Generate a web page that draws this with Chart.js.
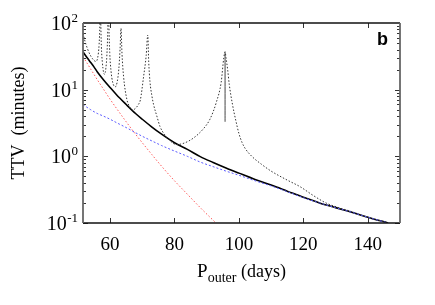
<!DOCTYPE html>
<html><head><meta charset="utf-8">
<script src="https://cdn.jsdelivr.net/npm/chart.js@4"></script>
<style>html,body{margin:0;padding:0;background:#fff}</style>
</head><body>
<canvas id="c" width="435" height="305"></canvas>
<script>
// ---- data ----
const xTicks = [60, 80, 100, 120, 140];
const yTickValues = [0.1, 1, 10, 100];
const yTickBase = '10';
const yTickExponents = ['-1', '0', '1', '2'];
const panelLabel = 'b';
const yTitle = 'TTV  (minutes)';
const xTitleMain = 'P';
const xTitleSub = 'outer';
const xTitleUnit = ' (days)';

// full numerical TTV (dotted black, resonance spikes)
const dotP   = [51.6, 52.0, 53.0, 54.0, 55.0, 55.6, 56.2, 56.6, 56.85, 57.0, 57.1, 57.3, 57.6, 58.0, 58.3, 58.7, 59.0, 59.3, 59.5, 59.65, 59.9, 60.3, 60.8, 61.6, 62.2, 62.7, 63.1, 63.4, 63.7, 64.2, 65.2, 66.0, 66.8, 67.8, 68.8, 69.4, 70.4, 71.2, 71.7, 72.0, 72.4, 73.0, 73.5, 74.6, 75.5, 77.0, 79.0, 80.5, 83.0, 86.0, 89.0, 91.0, 93.0, 94.5, 95.3, 95.7, 96.0, 96.5, 97.0, 98.0, 99.0, 100.0, 101.0, 102.0, 104.0, 107.0, 110.0, 115.0, 119.0, 123.0, 127.0, 131.0, 135.0, 140.0, 146.3];
const dotTTV = [70, 58, 41, 32, 27.5, 26.5, 31, 48, 100, 300, 120, 45, 26, 18, 17, 21, 32, 80, 300, 90, 36, 19, 13, 11, 13, 20, 40, 83, 35, 15.6, 7.2, 5.6, 4.9, 5.2, 6.0, 7.0, 15.6, 32, 66, 26, 13, 8, 6, 3.9, 2.8, 2.1, 1.65, 1.5, 1.58, 1.9, 2.6, 3.6, 6.5, 13, 30, 37, 30, 20, 12, 6, 3.5, 2.2, 1.6, 1.3, 1.0, 0.76, 0.6, 0.44, 0.35, 0.26, 0.2, 0.17, 0.148, 0.123, 0.1];
// vertical segment at the 95.7-day resonance
const spikeP   = [95.7, 95.7];
const spikeTTV = [37, 3.3];

// total analytic TTV (solid black)
const solidP   = [51.6, 52, 53, 54, 55, 56, 58, 60, 62, 65, 68, 70, 73, 76, 80, 84, 88, 92, 96, 100, 105, 110, 115, 120, 125, 130, 135, 140, 146.3];
const solidTTV = [37, 34.5, 29.5, 25.5, 22, 18.6, 14, 10.8, 8.4, 6.0, 4.35, 3.6, 2.75, 2.15, 1.6, 1.27, 0.99, 0.81, 0.67, 0.56, 0.45, 0.37, 0.3, 0.243, 0.2, 0.17, 0.145, 0.122, 0.1];

// component (blue dotted)
const blueP   = [51.6, 52, 54, 56, 58, 60, 62, 65, 68, 70, 73, 76, 80, 84, 88, 92, 96, 100, 105, 110, 115, 120, 125, 130, 135, 140, 146.3];
const blueTTV = [6.0, 5.8, 5.0, 4.4, 4.0, 3.6, 3.2, 2.7, 2.25, 2.0, 1.7, 1.45, 1.2, 1.0, 0.82, 0.7, 0.6, 0.52, 0.43, 0.36, 0.295, 0.24, 0.2, 0.17, 0.145, 0.122, 0.1];

// component (red dotted)
const redP   = [51.6, 52, 53, 54, 55, 56, 58, 60, 62, 65, 68, 70, 73, 76, 80, 84, 88, 92, 94];
const redTTV = [31, 29, 24.4, 20.3, 17, 14.2, 10.1, 7.2, 5.24, 3.3, 2.12, 1.6, 1.06, 0.71, 0.43, 0.27, 0.17, 0.11, 0.089];

const pts = (xs, ys) => xs.map((x, i) => ({x: x, y: ys[i]}));

const SERIF = '"Liberation Serif", "DejaVu Serif", serif';

const decor = {
  id: 'decor',
  afterDatasetsDraw(chart) {
    const {ctx, chartArea: a, scales: {x, y}} = chart;
    ctx.save();
    const seg = (x1, y1, x2, y2) => { ctx.beginPath(); ctx.moveTo(x1, y1); ctx.lineTo(x2, y2); ctx.stroke(); };
    // x ticks (inward, top and bottom)
    ctx.strokeStyle = '#333'; ctx.lineWidth = 1;
    xTicks.forEach(v => {
      const px = Math.round(x.getPixelForValue(v)) + 0.5;
      seg(px, a.bottom, px, a.bottom - 5);
      seg(px, a.top, px, a.top + 5);
    });
    // y ticks major + minor (inward, left and right)
    for (let k = -1; k <= 1; k++) {
      for (let m = 1; m <= 9; m++) {
        const v = m * Math.pow(10, k);
        const py = Math.round(y.getPixelForValue(v)) + 0.5;
        const len = m === 1 ? 5 : 3;
        seg(a.left, py, a.left + len, py);
        seg(a.right, py, a.right - len, py);
      }
    }
    // frame
    ctx.strokeStyle = '#111'; ctx.lineWidth = 1.3;
    seg(a.left, a.top, a.right, a.top);
    seg(a.left, a.bottom, a.right, a.bottom);
    ctx.strokeStyle = '#666'; ctx.lineWidth = 1.8;
    seg(a.left, a.top, a.left, a.bottom);
    seg(a.right, a.top, a.right, a.bottom);

    ctx.fillStyle = '#000';
    // x tick labels
    ctx.font = '19px ' + SERIF;
    ctx.textAlign = 'center'; ctx.textBaseline = 'alphabetic';
    xTicks.forEach(v => ctx.fillText(String(v), x.getPixelForValue(v), a.bottom + 27));
    // y tick labels 10^n
    yTickValues.forEach((v, i) => {
      const py = y.getPixelForValue(v);
      ctx.font = '13px ' + SERIF;
      const supW = ctx.measureText(yTickExponents[i]).width;
      ctx.textAlign = 'left';
      const right = a.left - 5;
      ctx.fillText(yTickExponents[i], right - supW, py - 1);
      ctx.font = '20px ' + SERIF;
      ctx.textAlign = 'right';
      ctx.fillText(yTickBase, right - supW - 0.5, py + 7);
    });
    // y title
    ctx.save();
    ctx.translate(24, (a.top + a.bottom) / 2);
    ctx.rotate(-Math.PI / 2);
    ctx.font = '18px ' + SERIF;
    ctx.textAlign = 'center';
    ctx.fillText(yTitle, 0, 0);
    ctx.restore();
    // x title with subscript
    ctx.textAlign = 'left';
    ctx.font = '19px ' + SERIF; const wP = ctx.measureText(xTitleMain).width;
    ctx.font = '14px ' + SERIF; const wS = ctx.measureText(xTitleSub).width;
    ctx.font = '18px ' + SERIF; const wU = ctx.measureText(xTitleUnit).width;
    let tx = (a.left + a.right) / 2 - (wP + wS + wU) / 2;
    const ty = a.bottom + 54;
    ctx.font = '19px ' + SERIF; ctx.fillText(xTitleMain, tx, ty); tx += wP;
    ctx.font = '14px ' + SERIF; ctx.fillText(xTitleSub, tx, ty + 5); tx += wS;
    ctx.font = '18px ' + SERIF; ctx.fillText(xTitleUnit, tx, ty);
    // panel label
    ctx.font = 'bold 18px "Liberation Sans", Arial, sans-serif';
    ctx.textAlign = 'right';
    ctx.fillText(panelLabel, a.right - 12, a.top + 22);
    ctx.restore();
  }
};

new Chart(document.getElementById('c'), {
  type: 'line',
  data: {
    datasets: [
      { data: pts(redP, redTTV), borderColor: '#ff5a5a', borderWidth: 1, borderDash: [1.5, 2] },
      { data: pts(blueP, blueTTV), borderColor: '#5a5aff', borderWidth: 1, borderDash: [2, 2] },
      { data: pts(dotP, dotTTV), borderColor: '#333', borderWidth: 1, borderDash: [1.5, 1.8] },
      { data: pts(spikeP, spikeTTV), borderColor: '#444', borderWidth: 1 },
      { data: pts(solidP, solidTTV), borderColor: '#000', borderWidth: 1.6 }
    ]
  },
  options: {
    responsive: false,
    animation: false,
    devicePixelRatio: 1,
    layout: { padding: { left: 83, right: 35, top: 23, bottom: 82 } },
    elements: { point: { radius: 0 }, line: { cubicInterpolationMode: 'monotone', fill: false } },
    plugins: { legend: { display: false }, tooltip: { enabled: false } },
    scales: {
      x: { type: 'linear', min: 51.6, max: 150, display: false },
      y: { type: 'logarithmic', min: 0.1, max: 100, display: false }
    }
  },
  plugins: [decor]
});
</script>
</body></html>
